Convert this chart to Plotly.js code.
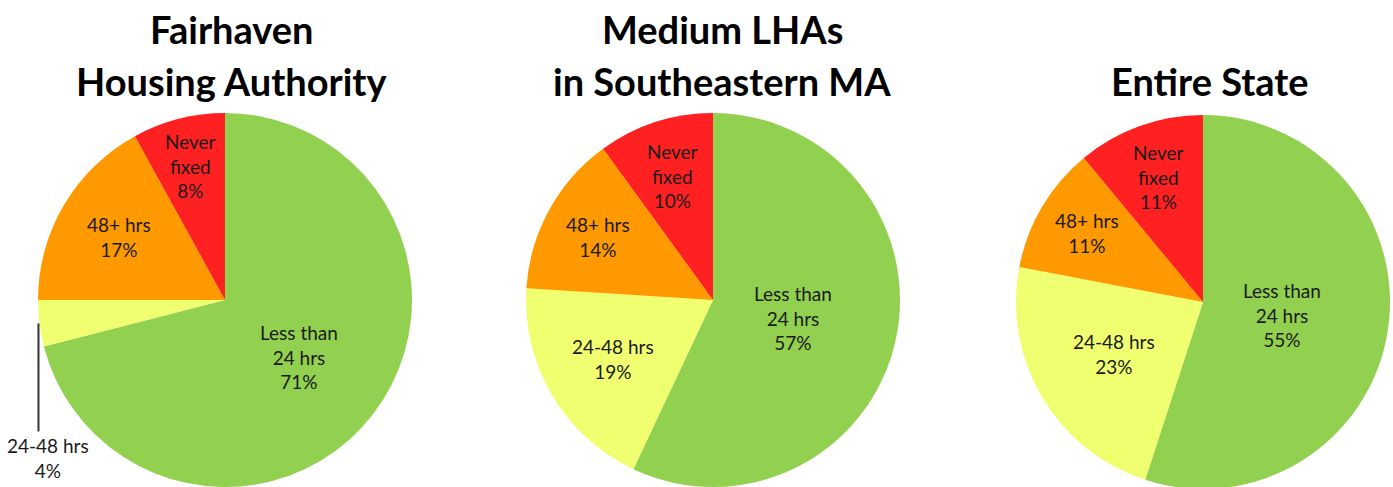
<!DOCTYPE html>
<html>
<head>
<meta charset="utf-8">
<script src="https://cdn.plot.ly/plotly-3.0.1.min.js"></script>
<style>
html,body{margin:0;padding:0;background:#fff;overflow:hidden;}
#chart{width:1393px;height:487px;}
</style>
</head>
<body>
<div id="chart"></div>
<script>
// ---- data ----
var categories = ["Less than<br>24 hrs", "24-48 hrs", "48+ hrs", "Never<br>fixed"];
var fairhavenValues = [71, 4, 17, 8];
var southeasternValues = [57, 19, 14, 10];
var stateValues = [55, 23, 11, 11];
var titleLines = [["Fairhaven", "Housing Authority"], ["Medium LHAs", "in Southeastern MA"], ["Entire State"]];

// ---- style ----
var colors = ["#92D050", "#EFFF6F", "#FF9900", "#FF2121"];
var W = 1393, H = 490;
var R = 187;
var centers = [[225, 300], [713, 300], [1203, 302]]; // px from top-left
// radial position of label (fraction of radius) per slice, per pie
var labelFrac = [[0.50, 0, 0.66, 0.74], [0.44, 0.62, 0.70, 0.70], [0.43, 0.55, 0.72, 0.71]];
var labelFont = {family: "Lato, 'Open Sans', sans-serif", size: 19, color: "#1a1a1a"};
var titleFont = {family: "Lato, 'Open Sans', sans-serif", size: 38, color: "#000", weight: 700};

var seriesList = [fairhavenValues, southeasternValues, stateValues];
var traces = [], annotations = [], shapes = [];

function px2paper(x, y) { return [x / W, 1 - y / H]; }

seriesList.forEach(function (vals, i) {
  var c = centers[i];
  traces.push({
    type: "pie",
    values: vals,
    labels: categories,
    sort: false,
    direction: "clockwise",
    rotation: 0,
    textinfo: "none",
    hoverinfo: "label+percent",
    marker: {colors: colors, line: {width: 0}},
    showlegend: false,
    domain: {x: [(c[0] - R) / W, (c[0] + R) / W], y: [1 - (c[1] + R) / H, 1 - (c[1] - R) / H]}
  });
  var total = vals.reduce(function (a, b) { return a + b; }, 0);
  var cum = 0;
  vals.forEach(function (v, j) {
    var mid = (cum + v / 2) / total * 2 * Math.PI;
    cum += v;
    var pct = Math.round(v / total * 100) + "%";
    var f = labelFrac[i][j];
    if (f > 0) {
      var p = px2paper(c[0] + R * f * Math.sin(mid), c[1] - R * f * Math.cos(mid));
      annotations.push({xref: "paper", yref: "paper", x: p[0], y: p[1], xanchor: "center", yanchor: "middle",
        showarrow: false, text: categories[j] + "<br>" + pct, font: labelFont, align: "center"});
    } else {
      // outside label with leader line
      var ex = c[0] + R * Math.sin(mid), ey = c[1] - R * Math.cos(mid);
      var a = px2paper(ex - 1, ey), b = px2paper(ex - 1, ey + 108);
      shapes.push({type: "line", xref: "paper", yref: "paper", x0: a[0], y0: a[1], x1: b[0], y1: b[1],
        line: {color: "#333", width: 2}});
      var t = px2paper(ex + 9, ey + 135);
      annotations.push({xref: "paper", yref: "paper", x: t[0], y: t[1], xanchor: "center", yanchor: "middle",
        showarrow: false, text: categories[j] + "<br>" + pct, font: labelFont, align: "center"});
    }
  });
});

var titleX = [232, 722, 1210];
var lineY = [29, 81];
titleLines.forEach(function (lines, i) {
  lines.forEach(function (t, k) {
    var yy = lineY[lineY.length - lines.length + k];
    var p = px2paper(titleX[i], yy);
    annotations.push({xref: "paper", yref: "paper", x: p[0], y: p[1], xanchor: "center", yanchor: "middle",
      showarrow: false, text: "<b>" + t + "</b>", font: titleFont, align: "center"});
  });
});

var layout = {
  width: W, height: H,
  margin: {l: 0, r: 0, t: 0, b: 0},
  paper_bgcolor: "#fff",
  annotations: annotations,
  shapes: shapes
};
Plotly.newPlot("chart", traces, layout, {displayModeBar: false, staticPlot: true});
</script>
</body>
</html>
